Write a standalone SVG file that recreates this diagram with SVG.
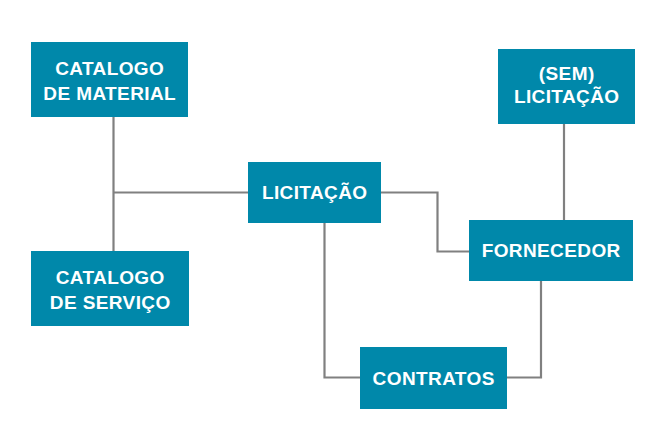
<svg xmlns="http://www.w3.org/2000/svg" width="659" height="445" viewBox="0 0 659 445">
<style>
.box{fill:#0088AA;}
.lbl{font-family:"Liberation Sans",Arial,sans-serif;font-weight:bold;font-size:19px;letter-spacing:0.4px;fill:#ffffff;text-anchor:middle;}
.conn{fill:none;stroke:#808080;stroke-width:2.2;}
</style>
<rect width="659" height="445" fill="#ffffff"/>
<g id="connectors">
<path class="conn" d="M113.5,117 V251"/>
<path class="conn" d="M113.5,192.5 H248"/>
<path class="conn" d="M381,192.5 H437.5 V251.5 H469"/>
<path class="conn" d="M564,124 V220"/>
<path class="conn" d="M324.5,223 V377.5 H360"/>
<path class="conn" d="M507,377.5 H541 V281"/>
</g>
<g id="catalogo-material">
<rect class="box" x="31" y="42" width="157" height="75"/>
<text class="lbl" x="109.7" y="75">CATALOGO</text>
<text class="lbl" x="109.7" y="100">DE MATERIAL</text>
</g>
<g id="catalogo-servico">
<rect class="box" x="31" y="251" width="158" height="75"/>
<text class="lbl" x="110.2" y="284">CATALOGO</text>
<text class="lbl" x="110.2" y="308.5">DE SERVIÇO</text>
</g>
<g id="licitacao">
<rect class="box" x="248" y="162" width="133" height="61"/>
<text class="lbl" x="314.7" y="199">LICITAÇÃO</text>
</g>
<g id="sem-licitacao">
<rect class="box" x="498" y="49" width="137" height="75"/>
<text class="lbl" x="566.7" y="80">(SEM)</text>
<text class="lbl" x="566.7" y="102.5">LICITAÇÃO</text>
</g>
<g id="fornecedor">
<rect class="box" x="469" y="220" width="164" height="61"/>
<text class="lbl" x="551.2" y="257">FORNECEDOR</text>
</g>
<g id="contratos">
<rect class="box" x="360" y="347" width="147" height="62"/>
<text class="lbl" x="433.7" y="385">CONTRATOS</text>
</g>
</svg>
